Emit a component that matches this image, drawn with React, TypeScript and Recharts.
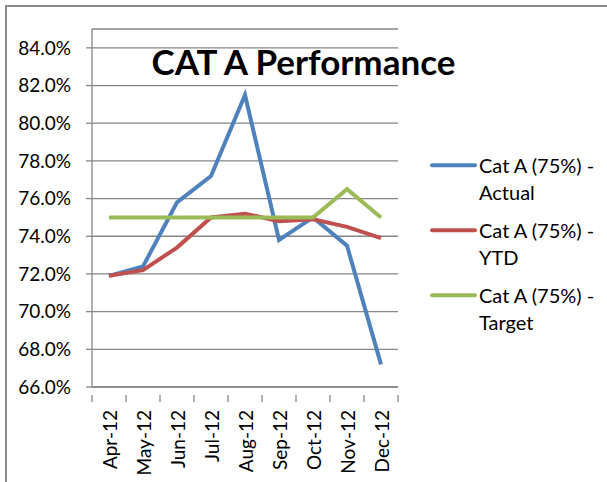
import React from "react";
import { LineChart, Line, XAxis, YAxis, CartesianGrid } from "recharts";

const months = ["Apr-12", "May-12", "Jun-12", "Jul-12", "Aug-12", "Sep-12", "Oct-12", "Nov-12", "Dec-12"];
const actual = [71.9, 72.4, 75.8, 77.2, 81.5, 73.8, 75.0, 73.5, 67.2];
const ytd = [71.9, 72.2, 73.4, 75.0, 75.2, 74.8, 74.9, 74.5, 73.9];
const target = [75, 75, 75, 75, 75, 75, 75, 76.5, 75];
const yTicks = [66, 68, 70, 72, 74, 76, 78, 80, 82, 84];

const series = [
  { key: "actual", name: "Actual", color: "#4F81BD" },
  { key: "ytd", name: "YTD", color: "#C0504D" },
  { key: "target", name: "Target", color: "#9BBB59" },
];

const data = months.map((m, i) => ({ month: m, actual: actual[i], ytd: ytd[i], target: target[i] }));

const W = 607;
const H = 482;
const FONT = "Lato, 'Noto Sans', sans-serif";
const GRID = "#868686";
const PLOT_W = 306;
const BAND = PLOT_W / months.length;

function MonthTick(props: any) {
  const { x, y, payload, index } = props;
  const left = x - BAND / 2;
  return (
    <g>
      <line x1={left} y1={y} x2={left} y2={y + 7} stroke={GRID} strokeWidth={1.3} />
      {index === months.length - 1 && (
        <line x1={x + BAND / 2} y1={y} x2={x + BAND / 2} y2={y + 7} stroke={GRID} strokeWidth={1.3} />
      )}
      <text
        x={x}
        y={y + 15}
        transform={`rotate(-90, ${x}, ${y + 15})`}
        textAnchor="end"
        dominantBaseline="central"
        fill="#000"
        fontSize={19}
        fontFamily={FONT}
      >
        {payload.value}
      </text>
    </g>
  );
}

function LegendBox() {
  return (
    <div
      style={{
        position: "absolute",
        left: 430,
        top: 152,
        fontFamily: FONT,
        fontSize: 20,
        lineHeight: "26.5px",
        color: "#000",
      }}
    >
      {series.map((s) => (
        <div key={s.key} style={{ display: "flex", height: 65 }}>
          <svg width={49} height={26.5} style={{ flex: "none" }}>
            <line x1={2} y1={13.25} x2={45} y2={13.25} stroke={s.color} strokeWidth={4} strokeLinecap="round" />
          </svg>
          <div style={{ whiteSpace: "nowrap" }}>
            Cat A (75%) -<br />
            {s.name}
          </div>
        </div>
      ))}
    </div>
  );
}

export default function App() {
  return (
    <div style={{ position: "absolute", left: 0, top: 0, width: W, height: H, overflow: "hidden", background: "#fff" }}>
      <div
        style={{
          position: "absolute",
          left: 5,
          top: 5,
          width: W + 20,
          height: H + 20,
          border: "2px solid #8c8c8c",
        }}
      />
      <div style={{ position: "absolute", left: 0, top: 0 }}>
        <LineChart width={W} height={H} data={data} margin={{ top: 29, right: 209, left: 0, bottom: 0 }}>
          <CartesianGrid vertical={false} stroke={GRID} strokeWidth={1.3} />
          <XAxis
            dataKey="month"
            height={95}
            interval={0}
            padding={{ left: BAND / 2, right: BAND / 2 }}
            tickLine={false}
            axisLine={{ stroke: GRID, strokeWidth: 1.3 }}
            tick={<MonthTick />}
          />
          <YAxis
            width={92}
            domain={[66, 85]}
            ticks={yTicks}
            interval={0}
            tickSize={6}
            tickMargin={15}
            tickLine={{ stroke: GRID, strokeWidth: 1.3 }}
            axisLine={{ stroke: GRID, strokeWidth: 1.3 }}
            tickFormatter={(v: number) => v.toFixed(1) + "%"}
            tick={{ fill: "#000", fontSize: 19, fontFamily: FONT }}
          />
          {series.map((s) => (
            <Line
              key={s.key}
              type="linear"
              dataKey={s.key}
              stroke={s.color}
              strokeWidth={4}
              dot={false}
              isAnimationActive={false}
            />
          ))}
        </LineChart>
      </div>
      <LegendBox />
      <svg width={W} height={H} style={{ position: "absolute", left: 0, top: 0, pointerEvents: "none" }}>
        <text x={303.5} y={75} textAnchor="middle" fontFamily={FONT} fontWeight="bold" fontSize={35} fill="#000">
          CAT A Performance
        </text>
      </svg>
    </div>
  );
}
